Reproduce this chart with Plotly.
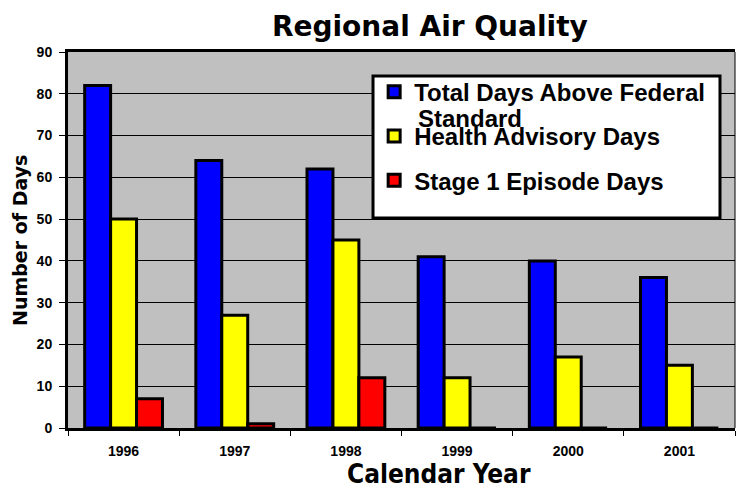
import plotly.graph_objects as go

years = ["1996", "1997", "1998", "1999", "2000", "2001"]
total_days = [82, 64, 62, 41, 40, 36]
health_days = [50, 27, 45, 12, 17, 15]
stage1_days = [7, 1, 12, 0, 0, 0]

series = [
    ("Total Days Above Federal", total_days, "#0000FF"),
    ("Health Advisory Days", health_days, "#FFFF00"),
    ("Stage 1 Episode Days", stage1_days, "#FF0000"),
]

ARIAL = "Liberation Sans, Arial, sans-serif"
WIDE = "DejaVu Sans, sans-serif"

fig = go.Figure()
for i, (name, vals, col) in enumerate(series):
    fig.add_trace(go.Bar(
        x=years, y=vals, name=name, legendgroup=str(i),
        marker=dict(color=col, line=dict(color="black", width=3)),
    ))

fig.update_layout(
    width=736, height=488,
    margin=dict(l=68, r=1, t=52, b=60),
    paper_bgcolor="white", plot_bgcolor="#C0C0C0",
    barmode="group", bargap=0.3, bargroupgap=0,
    font=dict(family=ARIAL, color="black", size=14, weight="bold"),
    title=dict(text="Regional Air Quality", x=0.584, xanchor="center",
               y=0.947, yanchor="middle",
               font=dict(size=28, family=WIDE, weight="bold")),
    showlegend=True,
    legend=dict(x=0.459, xanchor="left", y=0.953, yanchor="top",
                bgcolor="rgba(0,0,0,0)", borderwidth=0,
                font=dict(size=24, family=ARIAL, weight="bold"),
                valign="top", tracegroupgap=10, traceorder="grouped"),
    xaxis=dict(showline=True, linecolor="black", linewidth=3, mirror=True,
               ticks="outside", tickson="boundaries", ticklen=5, tickcolor="black",
               ticklabelstandoff=8, tickfont=dict(size=14, weight="bold"),
               automargin=False),
    yaxis=dict(range=[0, 90], dtick=10, showline=True, linecolor="black", linewidth=3,
               ticks="outside", ticklen=6, tickcolor="black", ticklabelstandoff=4,
               showgrid=True, gridcolor="black", gridwidth=1, zeroline=False,
               tickfont=dict(size=14, weight="bold"), automargin=False),
    shapes=[
        dict(type="line", xref="paper", yref="paper", x0=1, x1=1, y0=0, y1=1,
             line=dict(color="black", width=1)),
        dict(type="rect", xref="paper", yref="paper", x0=0.4573, x1=0.9775,
             y0=0.5585, y1=0.9362, layer="above", fillcolor="white",
             line=dict(color="black", width=3)),
    ],
    annotations=[
        dict(text="Standard", xref="paper", yref="paper", x=0.521, y=0.822,
             showarrow=False, xanchor="left", yanchor="middle",
             font=dict(size=24, family=ARIAL, weight="bold")),
        dict(text="Number of Days", xref="paper", yref="paper", x=-0.072, y=0.5,
             textangle=-90, showarrow=False, xanchor="center", yanchor="middle",
             font=dict(size=19, family=WIDE, weight="bold")),
        dict(text="Calendar Year", xref="paper", yref="paper", x=0.556, y=-0.122,
             showarrow=False, xanchor="center", yanchor="middle",
             font=dict(size=26, family="Liberation Sans Narrow, DejaVu Sans Condensed, sans-serif",
                       weight="bold")),
    ],
)

fig.write_html("out.html", config={"displayModeBar": False},
               post_script="document.body.style.margin='0px';")
